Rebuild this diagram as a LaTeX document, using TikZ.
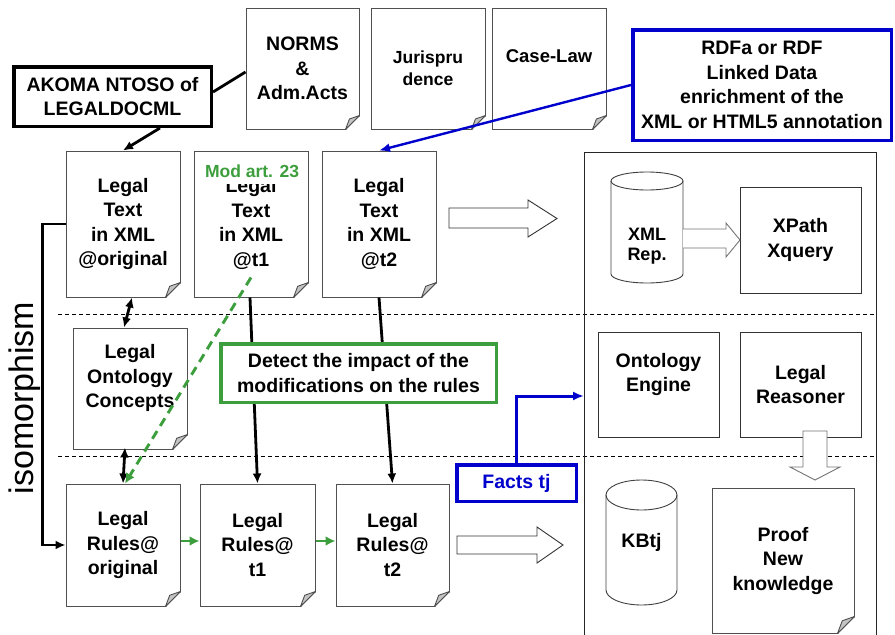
\documentclass[tikz,border=0pt]{standalone}
\usepackage{fontspec}
\setmainfont{Liberation Sans}
\usetikzlibrary{arrows.meta,calc}
\definecolor{docgray}{HTML}{505050}
\definecolor{foldgray}{HTML}{C4C4C4}
\definecolor{mygreen}{HTML}{3C9E3C}
\definecolor{myblue}{HTML}{0000CC}
\newcommand\docfold[2]{%
  \fill[white] ([xshift=-#2pt,yshift=-1pt]#1.south east) -- ([xshift=1pt,yshift=-1pt]#1.south east) -- ([xshift=1pt,yshift=#2pt]#1.south east) -- cycle;
  \draw[docline] ([yshift=#2pt]#1.south east) -- ([xshift=-#2pt]#1.south east);
  \draw[docline, fill=foldgray] ([yshift=#2pt]#1.south east) -- ([xshift=-0.72*#2pt, yshift=0.75*#2pt]#1.south east) -- ([xshift=-#2pt]#1.south east) -- cycle;
}
\newcommand\cyl[6]{% name, cx, ytop, ybot, rx, ry
  \draw[cylline, fill=white] (#2-#5, #3+#6) -- (#2-#5, #4-#6)
     arc[start angle=180, end angle=360, x radius=#5pt, y radius=#6pt]
     -- (#2+#5, #3+#6)
     arc[start angle=0, end angle=180, x radius=#5pt, y radius=#6pt] -- cycle;
  \draw[cylline] (#2-#5, #3+#6) arc[start angle=180, end angle=360, x radius=#5pt, y radius=#6pt];
}
\begin{document}
\begin{tikzpicture}[x=1pt,y=-1pt,
  txt/.style={font=\fontsize{19.5}{24.5}\selectfont\bfseries, align=center},
  doc/.style={txt, draw=docgray, line width=1pt, fill=white, inner sep=0pt},
  docline/.style={draw=docgray, line width=0.9pt, line join=round},
  cylline/.style={draw=black!75, line width=0.9pt},
  plainbox/.style={txt, draw=black!80, line width=0.9pt, fill=white, inner sep=0pt},
  conn/.style={draw=black, line width=2.8pt, -{Latex[length=10pt,width=9pt]}},
  biconn/.style={draw=black, line width=2.8pt, {Latex[length=10pt,width=9pt]}-{Latex[length=10pt,width=9pt]}},
  greenconn/.style={draw=mygreen, line width=2.9pt, -{Latex[length=10pt,width=10pt]}},
  blueconn/.style={draw=myblue, line width=2.4pt, -{Latex[length=11pt,width=9pt]}},
  hollow/.style={draw=black!80, line width=0.9pt, fill=white, line join=miter},
  hollowgray/.style={draw=black!55, line width=0.9pt, fill=white, line join=miter},
  sep/.style={draw=black, line width=0.7pt, dash pattern=on 4pt off 3pt},
]
\useasboundingbox (0,0) rectangle (895,635);

% separators and panel
\draw[sep] (58,314) -- (876,314);
\draw[sep] (58,456) -- (876,456);
\draw[line width=0.8pt, black!85] (584,640) -- (584,152) -- (876,152) -- (876,640);

% top documents
\node[doc, minimum width=113pt, minimum height=121pt] (norms) at (302.5,68.5) {NORMS\\\&\\Adm.Acts};
\docfold{norms}{14}
\node[doc, font=\fontsize{17.5}{22}\selectfont\bfseries, minimum width=114pt, minimum height=121pt] (juris) at (428,68.5) {Jurispru\\dence};
\docfold{juris}{14}
\node[doc, font=\fontsize{18.5}{24}\selectfont\bfseries, minimum width=114pt, minimum height=121pt] (case) at (549,68.5) {Case-Law\\\mbox{}};
\docfold{case}{14}

% AKOMA and RDF boxes
\node[txt, draw=black, line width=3.5pt, fill=white, minimum width=197.5pt, minimum height=59.5pt, inner sep=0pt] (akoma) at (112.5,96.5) {AKOMA NTOSO of\\LEGALDOCML};
\node[txt, draw=myblue, line width=3.5pt, fill=white, minimum width=258.5pt, minimum height=110.5pt, inner sep=0pt] (rdf) at (762,85) {RDFa or RDF\\Linked Data\\enrichment of the\\XML or HTML5 annotation};

% legal text documents
\node[doc, minimum width=114pt, minimum height=146pt] (lto) at (123,224) {Legal\\Text\\in XML\\@original};
\docfold{lto}{15}
\node[doc, minimum width=114pt, minimum height=146pt] (ltt1) at (251,224) {Legal\\Text\\in XML\\@t1};
\docfold{ltt1}{15}
\node[doc, minimum width=114pt, minimum height=146pt] (ltt2) at (379,224) {Legal\\Text\\in XML\\@t2};
\docfold{ltt2}{15}
\node[font=\fontsize{17.5}{20}\selectfont\bfseries, text=mygreen, fill=white, inner xsep=1pt, inner ysep=0pt, text depth=7pt, anchor=base] (mod) at (252,177) {Mod art. 23};

% ontology concepts
\node[doc, minimum width=114pt, minimum height=121pt] (loc) at (130,388.5) {Legal\\Ontology\\Concepts\\\mbox{}};
\docfold{loc}{15}

% legal rules documents
\node[doc, minimum width=114pt, minimum height=122pt] (lro) at (123,545) {Legal\\Rules@\\original};
\docfold{lro}{15}
\node[doc, minimum width=115pt, minimum height=122pt] (lrt1) at (257.5,545) {Legal\\Rules@\\t1};
\docfold{lrt1}{15}
\node[doc, minimum width=113pt, minimum height=122pt] (lrt2) at (392.5,545) {Legal\\Rules@\\t2};
\docfold{lrt2}{15}

% connectors
\draw[line width=2.8pt] ([yshift=4.5pt]akoma.east) -- ([yshift=-3.5pt]norms.west);
\draw[conn] ([xshift=47.5pt]akoma.south) -- (lto.north);
\draw[blueconn] (rdf.west) -- (ltt2.north);
\draw[biconn] ([xshift=9pt]lto.south) -- ([xshift=-6pt]loc.north);
\draw[biconn] ([xshift=-5pt,yshift=2pt]loc.south) -- (lro.north);
\draw[conn] ([xshift=-1pt]ltt1.south) -- (lrt1.north);
\draw[conn] (ltt2.south) -- (lrt2.north);
\draw[greenconn, dash pattern=on 9pt off 6pt] ([yshift=20pt]ltt1.south) -- ([xshift=2pt]lro.north);
\draw[greenconn] ([yshift=4pt]lro.east) -- ([yshift=4pt]lrt1.west);
\draw[greenconn] ([yshift=4pt]lrt1.east) -- ([yshift=4pt]lrt2.west);
\draw[conn] (lto.west) -- ++(-23,0) |- (lro.west);
\node[font=\fontsize{34}{40}\selectfont, rotate=90, anchor=base] (iso) at (34,398) {isomorphism};

% detect box
\node[txt, draw=mygreen, line width=3.5pt, fill=white, minimum width=275.5pt, minimum height=58.5pt, inner sep=0pt] (detect) at (358.5,373) {Detect the impact of the\\modifications on the rules};

% facts
\node[txt, text=myblue, draw=myblue, line width=3.5pt, fill=white, minimum width=119.5pt, minimum height=36.5pt, inner sep=0pt] (facts) at (516.5,483) {Facts tj};
\coordinate (panelin) at (584,396);
\draw[blueconn, line width=3pt] (facts.north) |- (panelin);

% big hollow arrows
\draw[hollow] (449,208) -- (528,208) -- (528,200) -- (557,218.5) -- (528,237) -- (528,228) -- (449,228) -- cycle;
\draw[hollow] (457,536) -- (537,536) -- (537,527) -- (563,545) -- (537,563) -- (537,554) -- (457,554) -- cycle;

% right panel content
\cyl{xmlrep}{647}{172}{283}{36}{9}
\node[font=\fontsize{18}{19.5}\selectfont\bfseries, align=center] (xmlreptxt) at (647,246) {XML\\Rep.};
\node[plainbox, minimum width=121pt, minimum height=106pt] (xpath) at (800.5,240) {XPath\\Xquery};
\draw[hollowgray] (683,229) -- (726,229) -- (726,223) -- (740,240) -- (726,257) -- (726,248) -- (683,248);

\node[plainbox, minimum width=121pt, minimum height=105pt] (oeng) at (658.5,384.5) {Ontology\\Engine\\\mbox{}};
\node[plainbox, minimum width=121pt, minimum height=105pt] (lreas) at (800.5,384.5) {Legal\\Reasoner};
\draw[hollowgray] (803,431) -- (827,431) -- (827,467) -- (840,467) -- (815,480) -- (790,467) -- (803,467) -- cycle;

\cyl{kb}{641.5}{480}{605}{35.5}{15}
\node[txt] (kbtxt) at (641.5,542) {KBtj};
\node[doc, minimum width=142pt, minimum height=145pt] (proof) at (783,560.5) {Proof\\New\\knowledge};
\docfold{proof}{17}
\end{tikzpicture}
\end{document}
